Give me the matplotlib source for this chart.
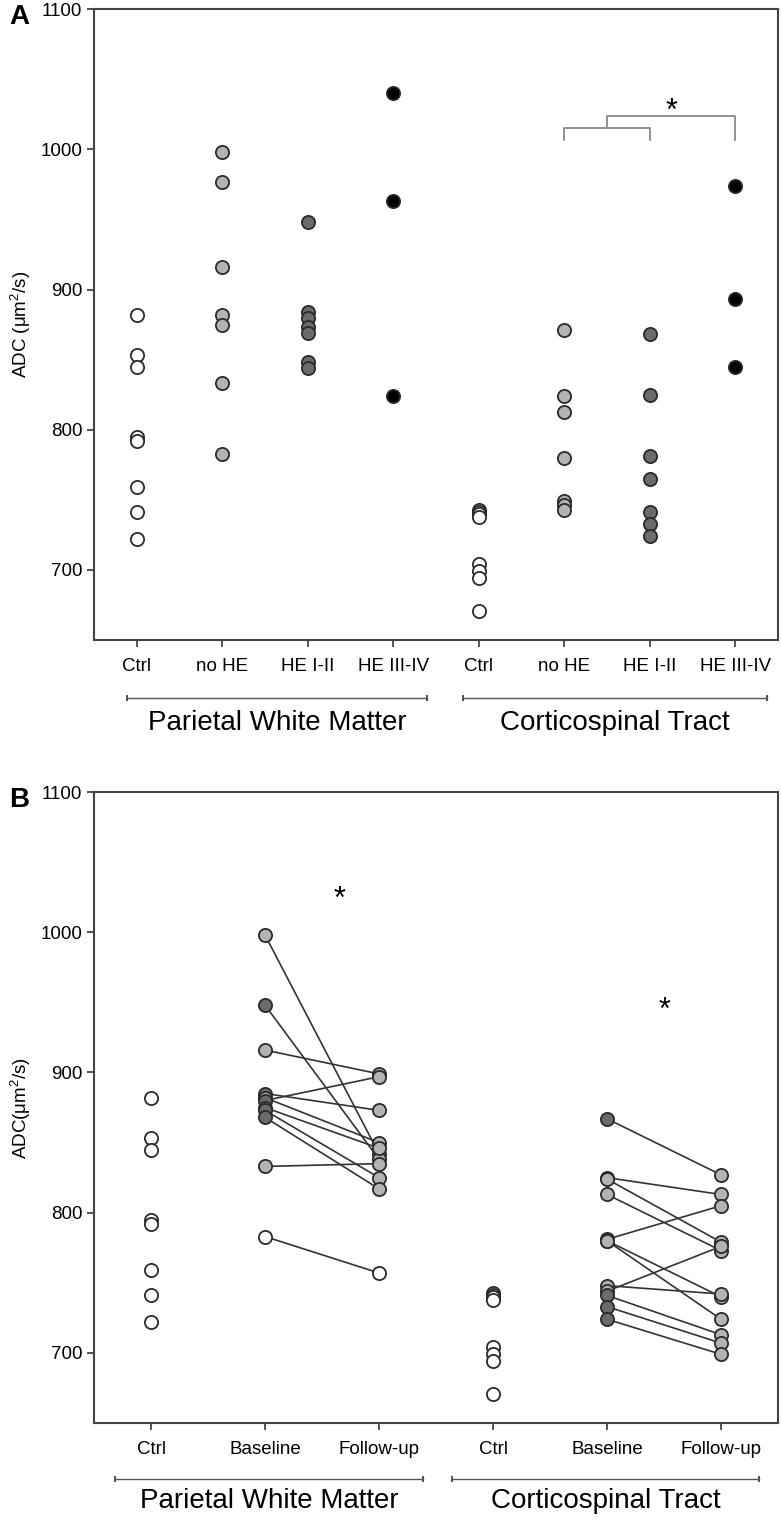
import matplotlib
matplotlib.use('Agg')
import matplotlib.pyplot as plt
import matplotlib.transforms as mtransforms

plt.rcParams['font.family'] = ['Liberation Sans', 'DejaVu Sans']

# ---- panel A data (ADC, um^2/s) ----
cats_a = ['Ctrl', 'no HE', 'HE I-II', 'HE III-IV', 'Ctrl', 'no HE', 'HE I-II', 'HE III-IV']
pwm_ctrl = [882, 853, 845, 795, 792, 759, 741, 722]
pwm_nohe = [998, 977, 916, 882, 875, 833, 783]
pwm_he12 = [948, 884, 880, 873, 869, 848, 844]
pwm_he34 = [1040, 963, 824]
cst_ctrl = [743, 741, 740, 738, 704, 699, 694, 671]
cst_nohe = [871, 824, 813, 780, 749, 746, 743]
cst_he12 = [868, 825, 781, 765, 741, 733, 724]
cst_he34 = [974, 893, 845]

# ---- panel B data: baseline -> follow-up pairs ----
cats_b = ['Ctrl', 'Baseline', 'Follow-up', 'Ctrl', 'Baseline', 'Follow-up']
pwm_base = [998, 948, 916, 885, 882, 880, 875, 873, 868, 833, 783]
pwm_follow = [842, 838, 899, 873, 850, 897, 846, 825, 817, 835, 757]
pwm_grade = ['L', 'D', 'L', 'D', 'L', 'D', 'L', 'D', 'D', 'L', 'W']
pwm_fgrade = ['L', 'L', 'L', 'L', 'L', 'L', 'L', 'L', 'L', 'L', 'W']
cst_base = [867, 825, 824, 813, 781, 780, 780, 748, 744, 741, 733, 724]
cst_follow = [827, 813, 779, 773, 805, 740, 724, 742, 776, 713, 707, 699]
cst_grade = ['D', 'D', 'L', 'L', 'D', 'D', 'L', 'L', 'L', 'D', 'D', 'D']

groups = ['Parietal White Matter', 'Corticospinal Tract']

fill = {'W': 'white', 'L': '#b3b3b3', 'D': '#6b6b6b', 'K': 'black'}
ms = 9.5
mec = '#2a2a2a'
spine_col = '#444444'


def dots(ax, x, vals, c):
    ax.plot([x] * len(vals), vals, 'o', ms=ms, mfc=fill[c], mec=mec, mew=1.3,
            linestyle='none', zorder=3, clip_on=False)


def style_axes(ax, cats, ylab):
    ax.set_ylim(650, 1100)
    ax.set_yticks([700, 800, 900, 1000, 1100])
    ax.set_xlim(0.5, len(cats) + 0.5)
    ax.set_xticks(range(1, len(cats) + 1))
    ax.set_xticklabels(cats, fontsize=13.5)
    ax.tick_params(axis='y', labelsize=13.5, length=5, width=1.3, color=spine_col)
    ax.tick_params(axis='x', length=5, width=1.3, color=spine_col, pad=8)
    for s in ax.spines.values():
        s.set_color(spine_col)
        s.set_linewidth(1.5)
    ax.set_ylabel(ylab, fontsize=13.5, labelpad=5)


def group_bar(ax, x0, x1, y_line, y_text, label):
    tr = mtransforms.blended_transform_factory(ax.transData, ax.transAxes)
    ax.plot([x0, x1], [y_line, y_line], color='#555555', lw=1.0, transform=tr, clip_on=False)
    ax.plot([x0, x1], [y_line, y_line], '|', color='#555555', ms=5, mew=1.5, transform=tr, clip_on=False)
    ax.text((x0 + x1) / 2, y_text, label, transform=tr, ha='center', va='center', fontsize=20)


fig = plt.figure(figsize=(7.81, 15.2), dpi=100)

# ---------------- panel A ----------------
axA = fig.add_axes([0.1204, 0.5789, 0.8758, 0.4151])
for i, (vals, c) in enumerate([(pwm_ctrl, 'W'), (pwm_nohe, 'L'), (pwm_he12, 'D'), (pwm_he34, 'K'),
                               (cst_ctrl, 'W'), (cst_nohe, 'L'), (cst_he12, 'D'), (cst_he34, 'K')]):
    dots(axA, i + 1, vals, c)
style_axes(axA, cats_a, r'ADC ($\mathregular{\mu m^2/s}$)')

# significance bracket
bc = '#8a8a8a'
axA.plot([6, 6, 7, 7], [1007, 1015, 1015, 1007], color=bc, lw=1.3)
axA.plot([6.5, 6.5, 8, 8], [1015, 1024, 1024, 1007], color=bc, lw=1.3)
axA.text(7.25, 1027, '*', ha='center', va='center', fontsize=22)

group_bar(axA, 0.88, 4.40, -0.092, -0.131, groups[0])
group_bar(axA, 4.82, 8.37, -0.092, -0.131, groups[1])

fig.text(0.012, 0.989, 'A', fontsize=20, fontweight='bold', va='center')

# ---------------- panel B ----------------
axB = fig.add_axes([0.1204, 0.0638, 0.8758, 0.4151])
dots(axB, 1, pwm_ctrl, 'W')
dots(axB, 4, cst_ctrl, 'W')
for b, f, g, fg in zip(pwm_base, pwm_follow, pwm_grade, pwm_fgrade):
    axB.plot([2, 3], [b, f], color='#333333', lw=1.2, zorder=2)
    dots(axB, 2, [b], g)
    dots(axB, 3, [f], fg)
for b, f, g in zip(cst_base, cst_follow, cst_grade):
    axB.plot([5, 6], [b, f], color='#333333', lw=1.2, zorder=2)
    dots(axB, 5, [b], g)
    dots(axB, 6, [f], 'L')
style_axes(axB, cats_b, r'ADC($\mathregular{\mu m^2/s}$)')

axB.text(2.65, 1023, '*', ha='center', va='center', fontsize=22)
axB.text(5.5, 944, '*', ha='center', va='center', fontsize=22)

group_bar(axB, 0.68, 3.39, -0.0886, -0.123, groups[0])
group_bar(axB, 3.64, 6.33, -0.0886, -0.123, groups[1])

fig.text(0.012, 0.474, 'B', fontsize=20, fontweight='bold', va='center')

plt.savefig('out.png', dpi=100)
